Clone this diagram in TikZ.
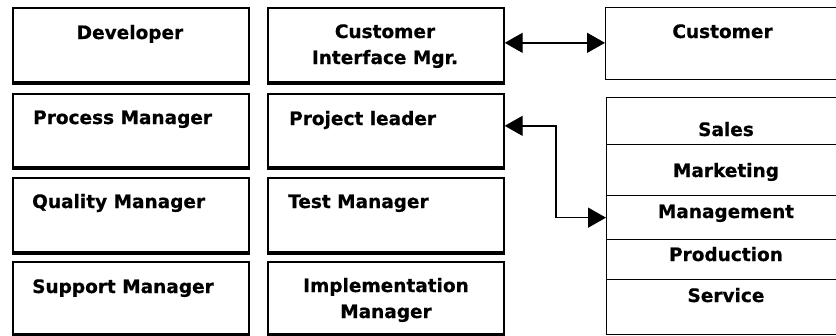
\documentclass[tikz,border=0pt]{standalone}
\usepackage{fontspec}
\setmainfont{DejaVu Sans}[BoldFeatures={FakeBold=0.6}]
\usetikzlibrary{arrows.meta}
\begin{document}
\begin{tikzpicture}[x=1pt,y=-1pt,
  box/.style={draw, line width=1.7pt, rectangle, inner sep=0pt, anchor=north west,
              minimum width=236pt},
  cell/.style={draw, line width=1.3pt, rectangle, inner sep=0pt, anchor=north west,
               minimum width=242pt},
  lbl/.style={inner sep=0pt, font=\fontsize{18.5}{26}\selectfont\bfseries},
  tip/.tip={Triangle[length=18pt,width=20pt]},
  link/.style={line width=1.4pt, tip-tip}]
\clip (0,0) rectangle (836,335);

% role boxes, two columns
\node[box, minimum height=74pt] (dev)  at (12,7)   {};
\node[box, minimum height=73pt] (proc) at (12,93)  {};
\node[box, minimum height=74pt] (qual) at (12,177) {};
\node[box, minimum height=72pt] (supp) at (12,261) {};
\node[box, minimum height=74pt] (cim)  at (267,7)   {};
\node[box, minimum height=73pt] (pl)   at (267,93)  {};
\node[box, minimum height=74pt] (test) at (267,177) {};
\node[box, minimum height=72pt] (impl) at (267,261) {};

% thickened lower edges
\foreach \b in {dev,proc,qual,supp,cim,pl,test,impl}
  \draw[line width=1.6pt] ([yshift=-1.2pt]\b.south west) -- ([yshift=-1.2pt]\b.south east);

% customer side
\node[cell, minimum height=72pt] (cust) at (605,7) {};
\node[cell, minimum height=47pt] (sales) at (606,97)  {};
\node[cell, minimum height=51pt] (mkt)   at (606,144) {};
\node[cell, minimum height=44pt] (mgmt)  at (606,195) {};
\node[cell, minimum height=40pt] (prod)  at (606,239) {};
\node[cell, minimum height=55pt] (serv)  at (606,279) {};

% labels
\node[lbl, anchor=base] (t-dev) at (130,39) {Developer};
\node[lbl, anchor=base west] (t-proc) at (33,124) {Process Manager};
\node[lbl, anchor=base west] (t-qual) at (32,208) {Quality Manager};
\node[lbl, anchor=base west] (t-supp) at (32,293) {Support Manager};
\node[lbl, anchor=base, align=center] (t-cim) at (385,64) {Customer\\Interface Mgr.};
\node[lbl, anchor=base west] (t-pl) at (289,125) {Project leader};
\node[lbl, anchor=base west] (t-test) at (288,208) {Test Manager};
\node[lbl, anchor=base, align=center] (t-impl) at (386,318) {Implementation\\Manager};
\node[lbl, anchor=base] (t-cust) at (722.5,38) {Customer};
\node[lbl, anchor=base] (t-sales) at (726,136) {Sales};
\node[lbl, anchor=base] (t-mkt)   at (726,177) {Marketing};
\node[lbl, anchor=base] (t-mgmt)  at (726,218) {Management};
\node[lbl, anchor=base] (t-prod)  at (726,261) {Production};
\node[lbl, anchor=base] (t-serv)  at (726,302) {Service};

% connectors
\coordinate (bend) at (556,0);
\draw[link] ([yshift=2pt]cim.east) -- ([yshift=2pt]cim.east -| cust.west);
\draw[link] ([yshift=4.5pt]pl.east) -- ([yshift=4.5pt]pl.east -| bend) |- (mgmt.west);
\end{tikzpicture}
\end{document}
